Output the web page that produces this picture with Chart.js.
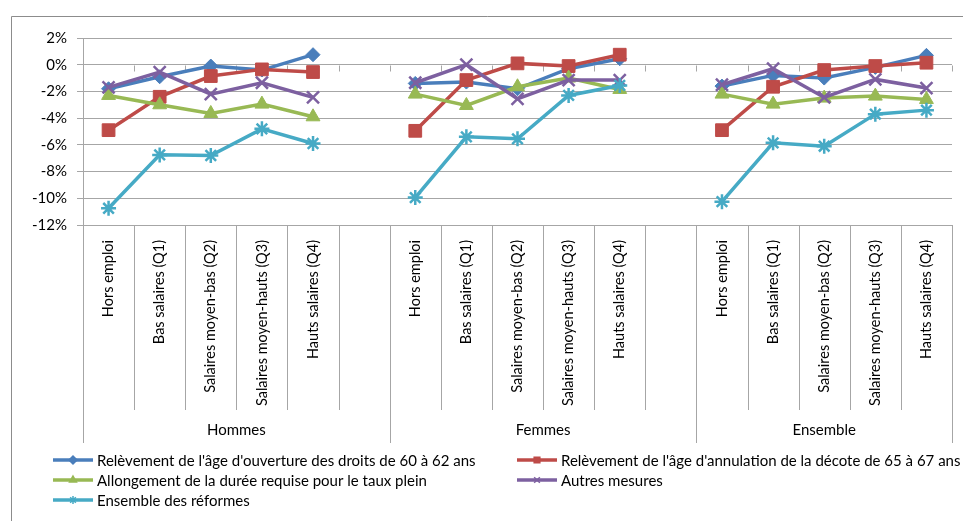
<!DOCTYPE html>
<html>
<head>
<meta charset="utf-8">
<script src="https://cdn.jsdelivr.net/npm/chart.js@4.4.1/dist/chart.umd.min.js"></script>
<style>
  html, body { margin: 0; padding: 0; background: #fff; }
  #wrap { position: relative; width: 963px; height: 521px; }
</style>
</head>
<body>
<div id="wrap"><canvas id="chart" width="963" height="521"></canvas></div>
<script>
// groups and categories
const groups = ["Hommes", "Femmes", "Ensemble"];
const categories = ["Hors emploi", "Bas salaires (Q1)", "Salaires moyen-bas (Q2)", "Salaires moyen-hauts (Q3)", "Hauts salaires (Q4)"];
const yTicks = [-12, -10, -8, -6, -4, -2, 0, 2];

// values in %, 5 per group: Hommes, Femmes, Ensemble
const relevementOuverture = [-1.8, -0.9, -0.1, -0.4, 0.75,  -1.4, -1.3, -1.8, -0.3, 0.45,  -1.6, -0.8, -1.0, -0.2, 0.7];
const relevementDecote    = [-4.9, -2.4, -0.85, -0.35, -0.55,  -4.95, -1.15, 0.1, -0.1, 0.75,  -4.9, -1.65, -0.4, -0.1, 0.15];
const allongementDuree    = [-2.3, -3.0, -3.65, -2.95, -3.9,  -2.2, -3.05, -1.65, -1.0, -1.85,  -2.2, -2.95, -2.5, -2.35, -2.6];
const autresMesures       = [-1.7, -0.55, -2.2, -1.35, -2.45,  -1.35, 0.0, -2.55, -1.15, -1.15,  -1.5, -0.3, -2.45, -1.1, -1.75];
const ensembleReformes    = [-10.75, -6.75, -6.8, -4.8, -5.9,  -9.95, -5.4, -5.55, -2.3, -1.55,  -10.25, -5.85, -6.1, -3.7, -3.4];

const seriesLabels = [
  "Relèvement de l'âge d'ouverture des droits de 60 à 62 ans",
  "Relèvement de l'âge d'annulation de la décote de 65 à 67 ans",
  "Allongement de la durée requise pour le taux plein",
  "Autres mesures",
  "Ensemble des réformes"
];
const seriesValues = [relevementOuverture, relevementDecote, allongementDuree, autresMesures, ensembleReformes];
const seriesColors = ["#4A7EBB", "#BE4B48", "#98B954", "#7D60A0", "#46AAC5"];
const seriesMarkers = ["rectRot", "rect", "triangle", "crossRot", "star"];
const markerRadius = [7, 9, 8, 8.5, 7.5];

// one empty slot after each group, so lines break between groups
const labels = [];
groups.forEach((g, gi) => {
  categories.forEach(c => labels.push(c));
  if (gi < groups.length - 1) labels.push("");
});
function spread(vals) {
  const out = [];
  groups.forEach((g, gi) => {
    for (let i = 0; i < categories.length; i++) out.push(vals[gi * categories.length + i]);
    if (gi < groups.length - 1) out.push(null);
  });
  return out;
}

const FONT = "Lato, 'Open Sans', sans-serif";
const gridColor = "#a6a6a6";

const datasets = seriesValues.map((vals, i) => ({
  label: seriesLabels[i],
  data: spread(vals),
  borderColor: seriesColors[i],
  backgroundColor: seriesColors[i],
  borderWidth: 3.5,
  pointStyle: seriesMarkers[i],
  pointRadius: markerRadius[i],
  pointBorderWidth: (seriesMarkers[i] === "crossRot" || seriesMarkers[i] === "star") ? 2.5 : 1,
  pointBorderColor: seriesColors[i],
  pointBackgroundColor: seriesColors[i],
  tension: 0,
  spanGaps: false,
  order: seriesValues.length - i
}));

const decor = {
  id: "decor",
  beforeDraw(chart) {
    const ctx = chart.ctx;
    ctx.save();
    ctx.strokeStyle = "#8c8c8c";
    ctx.lineWidth = 1;
    ctx.beginPath();
    ctx.moveTo(11.5, 521);
    ctx.lineTo(11.5, 16.5);
    ctx.lineTo(963, 16.5);
    ctx.stroke();
    ctx.restore();
  },
  beforeDatasetsDraw(chart) {
    const ctx = chart.ctx, x = chart.scales.x, y = chart.scales.y;
    const step = (x.right - x.left) / labels.length;
    const y0 = Math.round(y.getPixelForValue(0)) + 0.5;
    ctx.save();
    ctx.strokeStyle = gridColor;
    ctx.lineWidth = 1;
    ctx.beginPath();
    for (let i = 0; i <= labels.length; i++) {
      const bx = Math.round(x.left + i * step) + 0.5;
      ctx.moveTo(bx, y0);
      ctx.lineTo(bx, y0 + 6);
    }
    ctx.stroke();
    ctx.restore();
  },
  afterDraw(chart) {
    const ctx = chart.ctx, x = chart.scales.x;
    const area = chart.chartArea;
    const step = (x.right - x.left) / labels.length;
    const slot = categories.length + 1;
    ctx.save();
    ctx.strokeStyle = gridColor;
    ctx.lineWidth = 1;
    ctx.beginPath();
    for (let i = 0; i <= labels.length; i++) {
      const bx = Math.round(x.left + i * step) + 0.5;
      const isGroup = i % slot === 0 || i === labels.length;
      ctx.moveTo(bx, area.bottom);
      ctx.lineTo(bx, isGroup ? x.bottom + 33 : x.bottom);
    }
    ctx.stroke();

    // group names
    ctx.fillStyle = "#000";
    ctx.font = "15px " + FONT;
    ctx.textAlign = "center";
    ctx.textBaseline = "middle";
    groups.forEach((g, gi) => {
      const a = x.left + gi * slot * step;
      const b = x.left + Math.min((gi + 1) * slot, labels.length) * step;
      ctx.fillText(g, (a + b) / 2, x.bottom + 20);
    });

    // legend, two columns
    const colX = [53, 517];
    const rowY = [460, 480, 500];
    ctx.textAlign = "left";
    chart.data.datasets.forEach((ds, i) => {
      const lx = colX[i % 2], ly = rowY[Math.floor(i / 2)];
      ctx.strokeStyle = ds.borderColor;
      ctx.lineWidth = 3.5;
      ctx.beginPath();
      ctx.moveTo(lx, ly);
      ctx.lineTo(lx + 40, ly);
      ctx.stroke();
      ctx.lineWidth = 1.5;
      ctx.fillStyle = ds.backgroundColor;
      Chart.helpers.drawPoint(ctx, { pointStyle: ds.pointStyle, radius: 4, borderWidth: 1.5 }, lx + 20, ly);
      ctx.fillStyle = "#000";
      ctx.fillText(ds.label, lx + 44, ly + 1);
    });
    ctx.restore();
  }
};

new Chart(document.getElementById("chart"), {
  type: "line",
  data: { labels, datasets },
  options: {
    responsive: false,
    animation: false,
    events: [],
    layout: { padding: { top: 38, right: 5, bottom: 111, left: 0 } },
    plugins: { legend: { display: false }, tooltip: { enabled: false } },
    scales: {
      x: {
        type: "category",
        offset: true,
        grid: { display: false },
        border: { display: false },
        ticks: {
          autoSkip: false, minRotation: 90, maxRotation: 90, padding: 7,
          color: "#000", font: { family: FONT, size: 14.5 }
        },
        afterFit: s => { s.height = 185; }
      },
      y: {
        min: -12, max: 2,
        afterBuildTicks: s => { s.ticks = yTicks.map(v => ({ value: v })); },
        grid: { color: gridColor, tickLength: 6 },
        border: { color: gridColor },
        ticks: {
          padding: 10, color: "#000",
          font: { family: FONT, size: 15 },
          callback: v => v + "%"
        },
        afterFit: s => { s.width = 83; }
      }
    }
  },
  plugins: [decor]
});
</script>
</body>
</html>
